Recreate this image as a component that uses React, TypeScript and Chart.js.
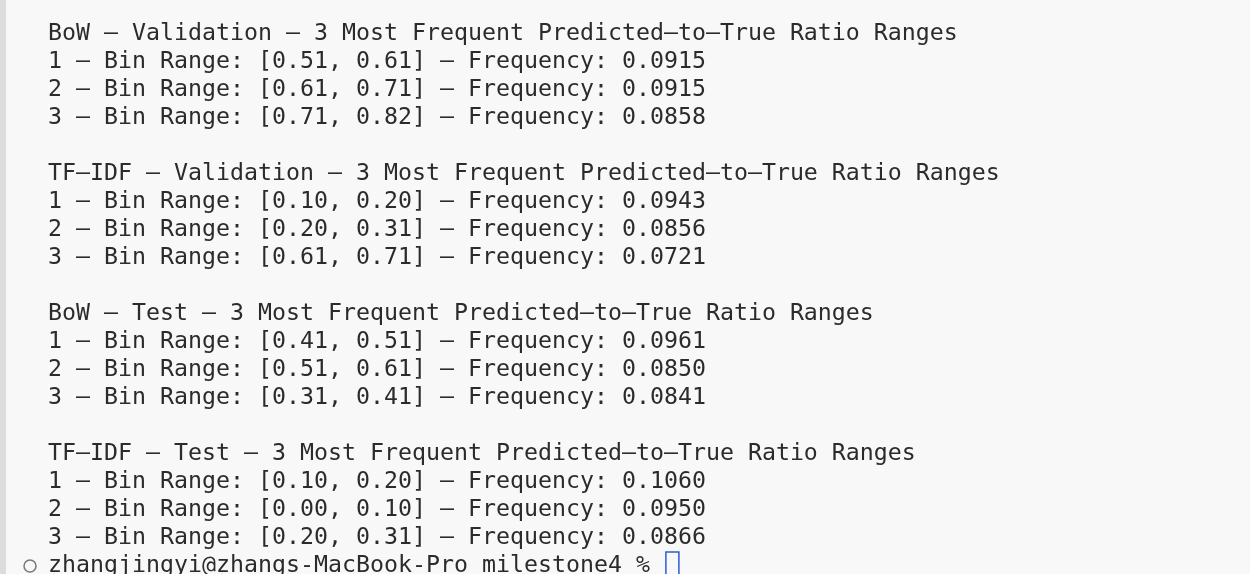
import Chart from 'chart.js/auto'
import { useEffect, useRef } from 'react'

const sectionTitles = [
  'BoW – Validation – 3 Most Frequent Predicted–to–True Ratio Ranges',
  'TF–IDF – Validation – 3 Most Frequent Predicted–to–True Ratio Ranges',
  'BoW – Test – 3 Most Frequent Predicted–to–True Ratio Ranges',
  'TF–IDF – Test – 3 Most Frequent Predicted–to–True Ratio Ranges'
]
const binRanges = [
  ['[0.51, 0.61]', '[0.61, 0.71]', '[0.71, 0.82]'],
  ['[0.10, 0.20]', '[0.20, 0.31]', '[0.61, 0.71]'],
  ['[0.41, 0.51]', '[0.51, 0.61]', '[0.31, 0.41]'],
  ['[0.10, 0.20]', '[0.00, 0.10]', '[0.20, 0.31]']
]
const frequencies = [
  [0.0915, 0.0915, 0.0858],
  [0.0943, 0.0856, 0.0721],
  [0.0961, 0.085, 0.0841],
  [0.106, 0.095, 0.0866]
]
const prompt = 'zhangjingyi@zhangs-MacBook-Pro milestone4 % '

export default function App() {
  const ref = useRef<HTMLCanvasElement>(null)

  useEffect(() => {
    document.body.style.margin = '0'
    if (!ref.current) return () => {}
    const lines: string[] = []
    sectionTitles.forEach((t, s) => {
      if (s > 0) lines.push('')
      lines.push(t)
      binRanges[s].forEach((r, i) =>
        lines.push(`${i + 1} – Bin Range: ${r} – Frequency: ${frequencies[s][i].toFixed(4)}`)
      )
    })
    const terminal = {
      id: 'terminal',
      beforeDraw(chart: Chart) {
        const ctx = chart.ctx
        ctx.save()
        ctx.fillStyle = '#f8f8f8'
        ctx.fillRect(0, 0, chart.width, chart.height)
        ctx.fillStyle = '#dcdcdc'
        ctx.fillRect(0, 0, 6, chart.height)
        ctx.font = '23.25px "DejaVu Sans Mono", monospace'
        ctx.fillStyle = '#2b2b2b'
        ctx.textBaseline = 'middle'
        lines.forEach((l, i) => ctx.fillText(l, 48, 34 + i * 28))
        const py = 34 + lines.length * 28
        ctx.fillText(prompt, 48, py)
        ctx.strokeStyle = '#777'
        ctx.lineWidth = 1.5
        ctx.beginPath()
        ctx.arc(30, py, 6, 0, Math.PI * 2)
        ctx.stroke()
        const w = ctx.measureText(prompt).width
        ctx.strokeStyle = '#2a5bd7'
        ctx.strokeRect(48 + w + 2, py - 14, 13, 28)
        ctx.restore()
      }
    }
    const chart = new Chart(ref.current, {
      type: 'bar',
      data: { labels: [], datasets: [] },
      options: {
        animation: false,
        responsive: false,
        plugins: { legend: { display: false }, tooltip: { enabled: false } },
        scales: { x: { display: false }, y: { display: false } }
      },
      plugins: [terminal]
    })
    return () => chart.destroy()
  }, [])

  return <canvas ref={ref} width={1250} height={574} style={{ display: 'block' }} />
}
